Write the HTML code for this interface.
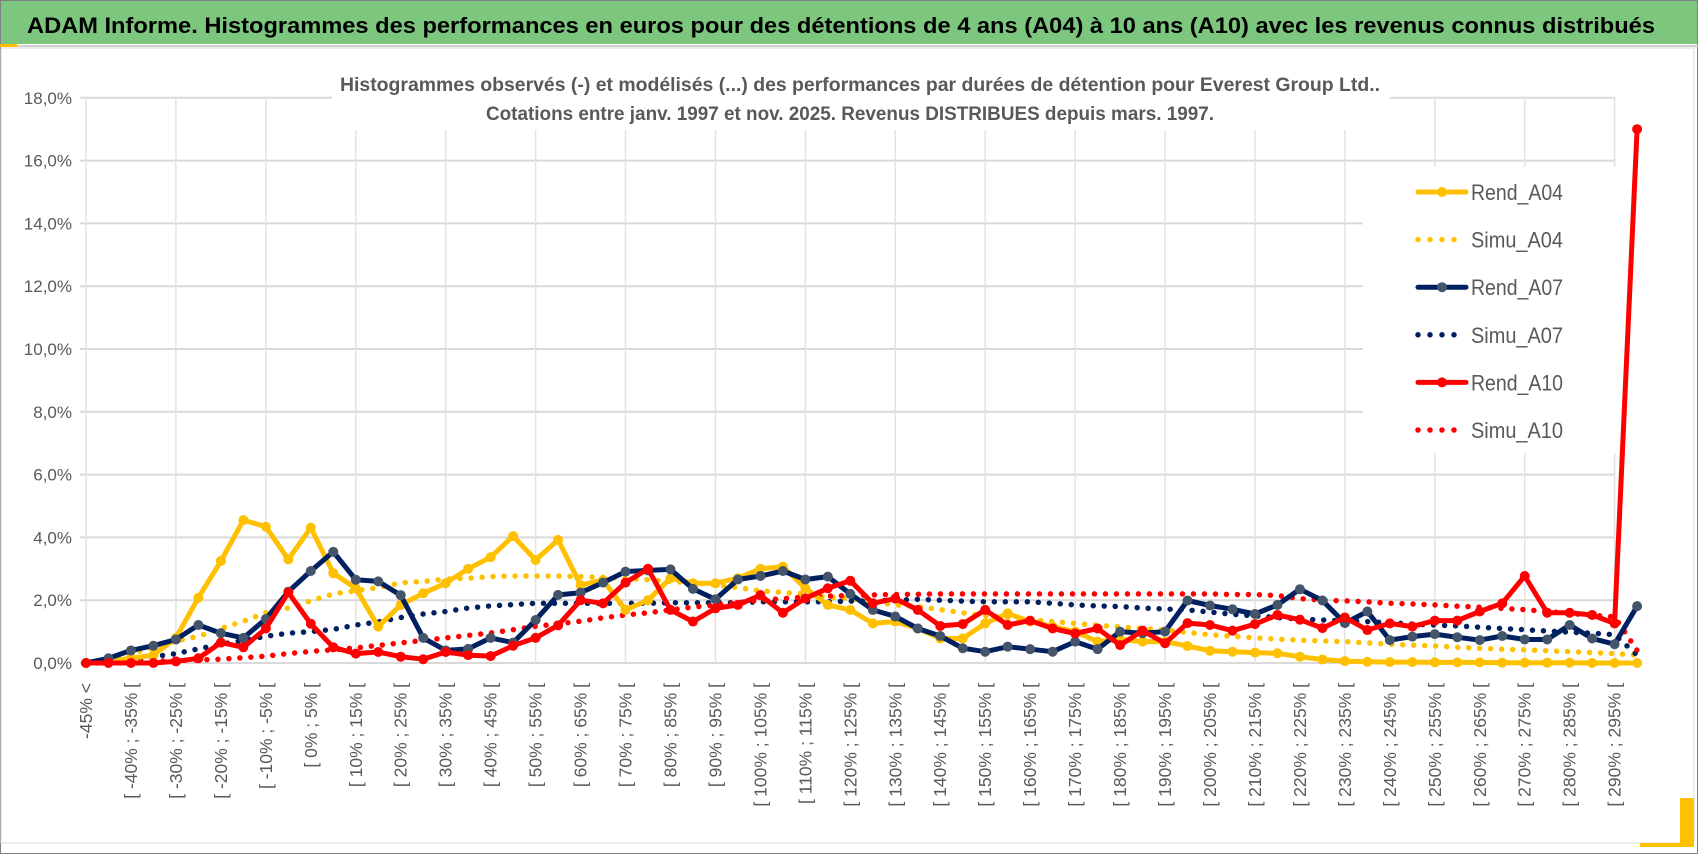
<!DOCTYPE html>
<html><head><meta charset="utf-8"><style>
html,body{margin:0;padding:0;background:#fff;}
svg{display:block;font-family:"Liberation Sans",sans-serif;}
</style></head><body>
<svg id="chart" width="1698" height="854" viewBox="0 0 1698 854">
<rect x="0" y="0" width="1698" height="854" fill="#fff"/>
<rect x="0.5" y="0.5" width="1697" height="853" fill="none" stroke="#7f7f7f"/>
<rect x="1" y="1" width="1696" height="43" fill="#7cc67e"/>
<line x1="0" y1="46" x2="1698" y2="46" stroke="#d0d0d0" stroke-width="2"/>
<rect x="0" y="44" width="17" height="3" fill="#ffc000"/>
<text x="27" y="33" font-size="22" font-weight="bold" fill="#000" textLength="1628" lengthAdjust="spacingAndGlyphs">ADAM Informe. Histogrammes des performances en euros pour des détentions de 4 ans (A04) à 10 ans (A10) avec les revenus connus distribués</text>
<rect x="1" y="48" width="1693" height="795" fill="none" stroke="#d9d9d9"/>
<rect x="1680" y="798" width="14" height="48" fill="#ffc000"/>
<rect x="1640" y="843" width="54" height="4" fill="#ffc000"/>
<g id="grid"></g>
<rect x="332" y="64" width="1058" height="66" fill="#fff"/>
<text x="860" y="91" font-size="19" font-weight="bold" fill="#595959" text-anchor="middle" textLength="1040" lengthAdjust="spacingAndGlyphs">Histogrammes observés (-) et modélisés (...) des performances par durées de détention pour Everest Group Ltd..</text>
<text x="850" y="120" font-size="19" font-weight="bold" fill="#595959" text-anchor="middle" textLength="728" lengthAdjust="spacingAndGlyphs">Cotations entre janv. 1997 et nov. 2025. Revenus DISTRIBUES depuis mars. 1997.</text>
<g id="yaxis"></g>
<g id="xaxis"></g>
<g id="series"></g>
<g id="legend"></g>
</svg>
<script>
const categories = (function(){ const c=["-45% <"]; for(let a=-45;a<300;a+=5){ c.push("[ "+a+"% ; "+(a+5)+"% ["); } return c.slice(0,70); })();
const yTicks = [0,2,4,6,8,10,12,14,16,18];
const yTickLabels = ["0,0%","2,0%","4,0%","6,0%","8,0%","10,0%","12,0%","14,0%","16,0%","18,0%"];
const rendA04 = [0,0.05,0.15,0.25,0.8,2.08,3.25,4.55,4.34,3.3,4.31,2.86,2.38,1.16,1.85,2.22,2.54,3.0,3.37,4.04,3.28,3.92,2.48,2.64,1.69,2.0,2.7,2.54,2.54,2.7,3.0,3.07,2.38,1.85,1.69,1.26,1.32,1.1,0.78,0.78,1.26,1.58,1.32,1.16,1.0,0.68,0.75,0.68,0.68,0.54,0.39,0.36,0.33,0.31,0.2,0.11,0.06,0.04,0.03,0.03,0.02,0.02,0.02,0.01,0.01,0.01,0.01,0,0,0];
const simuA04 = [0.05,0.1,0.3,0.5,0.7,0.85,1.1,1.33,1.6,1.75,1.98,2.2,2.3,2.4,2.55,2.6,2.67,2.7,2.75,2.77,2.77,2.77,2.75,2.73,2.7,2.65,2.6,2.55,2.5,2.4,2.3,2.25,2.2,2.1,2.05,1.95,1.85,1.8,1.7,1.6,1.5,1.45,1.38,1.32,1.26,1.2,1.15,1.1,1.05,0.97,0.9,0.85,0.8,0.76,0.73,0.7,0.68,0.64,0.6,0.57,0.54,0.5,0.47,0.44,0.42,0.39,0.36,0.33,0.3,0.25];
const rendA07 = [0,0.15,0.4,0.55,0.75,1.21,0.95,0.8,1.4,2.27,2.93,3.54,2.65,2.6,2.16,0.8,0.4,0.45,0.8,0.65,1.37,2.17,2.24,2.56,2.91,2.95,2.98,2.36,2.03,2.66,2.77,2.93,2.66,2.75,2.2,1.69,1.48,1.1,0.86,0.47,0.36,0.52,0.44,0.36,0.68,0.44,1.0,0.95,1.0,1.99,1.83,1.71,1.56,1.85,2.35,1.99,1.27,1.64,0.73,0.84,0.92,0.82,0.73,0.86,0.75,0.75,1.21,0.78,0.6,1.81];
const simuA07 = [0,0.02,0.1,0.2,0.3,0.45,0.6,0.72,0.85,0.95,1.0,1.07,1.21,1.31,1.45,1.56,1.64,1.75,1.82,1.86,1.9,1.9,1.9,1.9,1.9,1.9,1.92,1.92,1.92,1.92,1.95,1.95,1.95,1.95,1.97,1.97,2.0,2.03,2.0,1.97,1.95,1.95,1.95,1.9,1.85,1.82,1.8,1.75,1.72,1.69,1.62,1.55,1.5,1.45,1.4,1.37,1.34,1.32,1.28,1.24,1.21,1.18,1.14,1.1,1.06,1.02,0.98,0.95,0.9,0.25];
const rendA10 = [0,0,0,0,0.05,0.15,0.65,0.5,1.1,2.25,1.25,0.5,0.3,0.35,0.2,0.12,0.35,0.25,0.22,0.55,0.8,1.2,2.0,1.9,2.56,3.0,1.69,1.32,1.74,1.85,2.16,1.6,2.06,2.38,2.62,1.9,2.05,1.69,1.18,1.24,1.69,1.21,1.35,1.1,0.94,1.1,0.57,1.03,0.63,1.27,1.21,1.03,1.24,1.53,1.38,1.11,1.45,1.05,1.26,1.16,1.35,1.35,1.64,1.9,2.77,1.6,1.6,1.53,1.26,17.0];
const simuA10 = [0,0,0.02,0.05,0.08,0.1,0.12,0.17,0.22,0.3,0.37,0.42,0.48,0.56,0.64,0.72,0.8,0.88,0.96,1.06,1.17,1.25,1.33,1.44,1.53,1.6,1.69,1.78,1.85,1.92,2.0,2.05,2.1,2.13,2.15,2.17,2.18,2.19,2.2,2.2,2.2,2.2,2.2,2.2,2.2,2.2,2.2,2.2,2.2,2.2,2.2,2.18,2.18,2.15,2.05,2.0,1.98,1.95,1.9,1.88,1.85,1.81,1.78,1.74,1.7,1.64,1.58,1.52,1.47,0.4];
const seriesNames = ["Rend_A04","Simu_A04","Rend_A07","Simu_A07","Rend_A10","Simu_A10"];

const NS="http://www.w3.org/2000/svg";
const X0=86, DX=22.48, Y0=663, PY=31.4;
function xPos(i){ return X0+DX*i; }
function yPos(v){ return Y0-PY*v; }
function mk(tag, attrs, parent){ const e=document.createElementNS(NS,tag); for(const k in attrs) e.setAttribute(k,attrs[k]); parent.appendChild(e); return e; }

const grid=document.getElementById('grid');
yTicks.forEach((t,k)=>{
  const l=mk('line',{x1:xPos(0)-6,x2:xPos(69)-22,y1:yPos(t),y2:yPos(t),stroke:'#d9d9d9','stroke-width':2},grid);
  
  
  const tx=mk('text',{x:72,y:yPos(t)+6,'font-size':17,fill:'#595959','text-anchor':'end'},document.getElementById('yaxis'));
  tx.textContent=yTickLabels[k];
  
  
});
for(let i=0;i<categories.length;i+=4){
  const l=mk('line',{x1:xPos(i),x2:xPos(i),y1:yPos(18),y2:yPos(0),stroke:'#e3e3e3','stroke-width':1.5},grid);
  
  
}
const xg=document.getElementById('xaxis');
for(let i=0;i<categories.length;i+=2){
  const x=xPos(i)+6, y=683;
  const t=mk('text',{x:x,y:y,'font-size':17.5,fill:'#595959','text-anchor':'end',transform:'rotate(-90 '+x+' '+y+')'},xg);
  t.textContent=categories[i];
  
  
}

const sg=document.getElementById('series');
function drawDotted(vals,color,name){
  const d=vals.map((v,i)=>(i?'L':'M')+xPos(i).toFixed(1)+' '+yPos(v).toFixed(1)).join(' ');
  const p=mk('path',{d:d,fill:'none',stroke:color,'stroke-width':5.5,'stroke-linecap':'round','stroke-dasharray':'0 11'},sg);
  
  
}
function drawSolid(vals,color,mcolor,name){
  const g=mk('g',{},sg);
  
  
  const d=vals.map((v,i)=>(i?'L':'M')+xPos(i).toFixed(1)+' '+yPos(v).toFixed(1)).join(' ');
  mk('path',{d:d,fill:'none',stroke:color,'stroke-width':5,'stroke-linejoin':'round'},g);
  vals.forEach((v,i)=>{
    const c=mk('circle',{cx:xPos(i),cy:yPos(v),r:5,fill:mcolor},g);
    
    
  });
}
drawDotted(simuA04,'#ffc000','simu-a04-line');
drawDotted(simuA07,'#002060','simu-a07-line');
drawDotted(simuA10,'#ff0000','simu-a10-line');
drawSolid(rendA04,'#ffc000','#ffc000','rend-a04-line');
drawSolid(rendA07,'#002060','#44546a','rend-a07-line');
drawSolid(rendA10,'#ff0000','#ff0000','rend-a10-line');

const lg=document.getElementById('legend');


mk('rect',{x:1363,y:167,width:254,height:286,fill:'#fff'},lg);
const lcolors=['#ffc000','#ffc000','#002060','#002060','#ff0000','#ff0000'];
const lmark=['#ffc000',null,'#44546a',null,'#ff0000',null];
seriesNames.forEach((n,k)=>{
  const y=192+47.6*k;
  const e=mk('g',{},lg);
  
  
  if(lmark[k]){
    mk('line',{x1:1418,x2:1466,y1:y,y2:y,stroke:lcolors[k],'stroke-width':5,'stroke-linecap':'round'},e);
    mk('circle',{cx:1442,cy:y,r:5,fill:lmark[k]},e);
  } else {
    mk('line',{x1:1418,x2:1466,y1:y,y2:y,stroke:lcolors[k],'stroke-width':5.5,'stroke-linecap':'round','stroke-dasharray':'0 12'},e);
  }
  const t=mk('text',{x:1471,y:y+8,'font-size':22,fill:'#595959',textLength:92,lengthAdjust:'spacingAndGlyphs'},e);
  t.textContent=n;
});
</script>
</body></html>
